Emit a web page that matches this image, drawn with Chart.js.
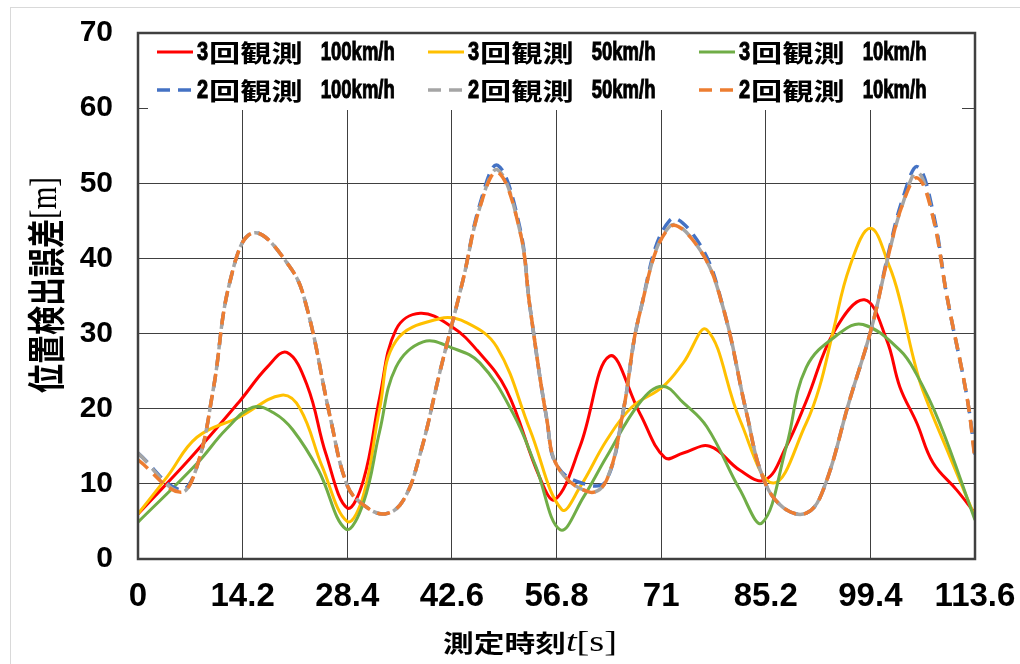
<!DOCTYPE html>
<html>
<head>
<meta charset="utf-8">
<script src="https://cdn.jsdelivr.net/npm/chart.js@4/dist/chart.umd.min.js"></script>
<style>
  html, body { margin: 0; padding: 0; background: #fff; }
  #chart { display: block; }
</style>
</head>
<body>
<canvas id="chart" width="1020" height="664"></canvas>
<script>
// 測定時刻 t[s] ごとの位置検出誤差 [m]
const xTicks = [0, 14.2, 28.4, 42.6, 56.8, 71, 85.2, 99.4, 113.6];

const seriesNames = [
  '3回観測 100km/h', '3回観測 50km/h', '3回観測 10km/h',
  '2回観測 100km/h', '2回観測 50km/h', '2回観測 10km/h'
];

const tRed = [0, 7, 13.8, 17.5, 20.2, 23, 25.5, 28.4, 30.6, 32.8, 35, 38.3, 42.6, 46, 50, 54.5, 56.6, 60, 64, 68.1, 71.5, 74, 77.6, 81.7, 85.1, 88, 90.7, 94.5, 98.6, 101.6, 103.4, 105.7, 107.9, 111.1, 113.6];
const vRed = [6, 13.3, 21, 25.5, 27.5, 23, 14, 6.8, 10.5, 21.5, 30.5, 32.7, 30.9, 27.8, 22.5, 10.9, 7.9, 15, 27, 19.4, 13.5, 14.1, 15, 11.8, 10.5, 15, 21, 30.3, 34.5, 29.2, 22.9, 18.1, 12.8, 9.2, 6.1];

const tYellow = [0, 4, 8, 13.8, 19.5, 22, 25, 28.4, 30.6, 32.8, 35, 41, 44.5, 48.7, 53.2, 57.5, 60, 63.6, 67, 71.2, 74, 77.2, 81.7, 86.2, 90.7, 92.5, 94.3, 96.6, 99.4, 102, 103.4, 105.2, 106.5, 110.2, 113.6];
const vYellow = [6, 11, 16.2, 18.9, 21.8, 20, 12.3, 5, 8.5, 20, 29, 32, 31.5, 28.2, 17.2, 6.6, 9.6, 15.8, 20.2, 22.9, 26.1, 30.5, 18.5, 10.1, 18.1, 22.9, 30.1, 38.9, 44, 38.9, 34.5, 26.9, 22.5, 13.6, 5.6];

const tGreen = [0, 8, 12, 15.6, 18.5, 21, 24.5, 28.2, 30.6, 32.8, 35, 38.7, 42.6, 46.4, 50.9, 54, 57.3, 60.5, 63.6, 68.1, 71.2, 74, 77.2, 81.7, 84.7, 88, 90.7, 95.3, 98.4, 103.4, 105.6, 108.8, 113.6];
const vGreen = [4.9, 12.7, 17.3, 20.2, 19.4, 17.2, 11.8, 4, 7.5, 17, 25.5, 28.9, 28.1, 26.1, 19.4, 12.3, 3.9, 8.3, 13.6, 20.8, 23, 20.8, 17.6, 9.2, 4.8, 15, 25.5, 30.1, 31.2, 27.8, 24.7, 18.1, 5.2];

const tDash = [0, 5.7, 8, 10.2, 12.5, 15.6, 20.6, 22.9, 26.1, 28.4, 30.6, 33.5, 36, 38.3, 41, 44.1, 46.4, 48.8, 51.8, 53.2, 55.5, 57, 61.3, 63.6, 65.8, 68.1, 72.2, 76.3, 79.4, 82.6, 84.8, 87.5, 90.7, 93, 96.6, 99.6, 101.8, 103.8, 105.8, 107.9, 109.8, 112.5, 113.6];
const vBlue = [14.1, 9.2, 12.3, 22.5, 37, 43.4, 38.9, 33.5, 18.8, 9.8, 7.2, 6, 7.8, 14, 25, 37.1, 47.2, 52.4, 44.2, 33.5, 18.5, 12.2, 9.8, 10.5, 19.4, 32.7, 45.1, 41.8, 33.5, 19.4, 10.9, 6.9, 6.1, 9.2, 21.2, 30.9, 40.5, 48, 52.2, 46.2, 34.9, 21.6, 13.9];
const vGray = [14.1, 8.9, 12.3, 22.5, 37, 43.4, 38.9, 33.5, 18.8, 9.8, 7.2, 6, 7.8, 14, 25, 37.1, 46.8, 51.8, 43.8, 33.5, 18.5, 12.2, 8.9, 10.5, 19.4, 32.7, 44.3, 41.1, 33.5, 19.4, 10.9, 6.9, 6.1, 9.2, 21.2, 30.9, 40.2, 47.3, 51.5, 45.5, 34.9, 21.6, 13.5];
const vOrange = [13.2, 8.9, 12.3, 22.5, 37, 43.4, 38.9, 33.5, 18.8, 9.8, 7.2, 6, 7.8, 14, 25, 37.1, 46.8, 51.5, 43.8, 33.5, 18.5, 12.2, 8.9, 10.5, 19.4, 32.7, 44.2, 41.1, 33.5, 19.4, 10.9, 6.9, 6.1, 9.2, 21.2, 30.9, 40.2, 47.3, 50.7, 45.5, 34.9, 21.6, 13.2];

const colors = ['#ff0000', '#ffc000', '#70ad47', '#4472c4', '#a5a5a5', '#ed7d31'];

const toPoints = (ts, vs) => ts.map((t, i) => ({ x: t, y: vs[i] }));

const series = [
  [tRed, vRed], [tYellow, vYellow], [tGreen, vGreen],
  [tDash, vBlue], [tDash, vGray], [tDash, vOrange]
];

const datasets = series.map(([ts, vs], i) => ({
  label: seriesNames[i],
  data: toPoints(ts, vs),
  borderColor: colors[i],
  backgroundColor: colors[i],
  borderWidth: i < 3 ? 3 : 3.5,
  borderDash: i < 3 ? [] : [13, 8],
  pointRadius: 0,
  tension: 0.4,
  fill: false,
  order: 6 - i // later series on top
}));

const CJK = '"Noto Sans CJK JP"';
const SANS = '"Liberation Sans"';
const SERIF = '"Liberation Serif"';

// draws text pieces one after another, each with its own font and horizontal stretch
const drawPieces = (ctx, pieces, x, y) => {
  pieces.forEach(p => {
    const sx = p.sx || 1;
    ctx.save();
    ctx.font = p.font;
    const w = ctx.measureText(p.text).width;
    ctx.translate(x, y);
    ctx.scale(sx, 1);
    ctx.fillText(p.text, 0, 0);
    if (p.heavy) {
      ctx.lineWidth = p.heavy;
      ctx.strokeStyle = ctx.fillStyle;
      ctx.strokeText(p.text, 0, 0);
    }
    ctx.restore();
    x += w * sx + (p.gap || 0);
  });
};

const decorations = {
  id: 'decorations',
  beforeDraw(chart) {
    const ctx = chart.ctx;
    ctx.save();
    ctx.fillStyle = '#fff';
    ctx.fillRect(0, 0, chart.width, chart.height);
    ctx.strokeStyle = '#d9d9d9';
    ctx.lineWidth = 1;
    ctx.strokeRect(10.5, 7.5, chart.width, chart.height);
    ctx.restore();
  },
  afterDraw(chart) {
    const ctx = chart.ctx;
    const area = chart.chartArea;
    ctx.save();

    // legend box inside the plot
    ctx.fillStyle = '#fff';
    ctx.fillRect(148, area.top + 1, 814, 76);
    ctx.textBaseline = 'middle';
    chart.data.datasets.forEach((ds, i) => {
      const col = i % 3, row = Math.floor(i / 3);
      const lx = 157 + col * 271;
      const ly = 52 + row * 38;
      ctx.beginPath();
      ctx.strokeStyle = ds.borderColor;
      ctx.lineWidth = ds.borderWidth;
      ctx.setLineDash(ds.borderDash);
      ctx.moveTo(lx, ly);
      ctx.lineTo(lx + 36, ly);
      ctx.stroke();
      ctx.setLineDash([]);
      const m = ds.label.match(/^(\d)(回観測)\s+(.*)$/);
      ctx.fillStyle = '#000';
      drawPieces(ctx, [
        { text: m[1], font: 'bold 25px ' + SANS, sx: 0.8, gap: 1, heavy: 1 },
        { text: m[2], font: 'bold 24px ' + CJK, sx: 1.3, gap: 18 },
        { text: m[3], font: 'bold 25px ' + SANS, sx: 0.74, heavy: 1 }
      ], lx + 40, ly + 1);
    });

    // plot frame
    ctx.strokeStyle = '#404040';
    ctx.lineWidth = 2.5;
    ctx.strokeRect(area.left, area.top, area.right - area.left, area.bottom - area.top);

    // axis titles
    ctx.fillStyle = '#000';
    drawPieces(ctx, [
      { text: '測定時刻', font: 'bold 24px ' + CJK, sx: 1.28 },
      { text: 't', font: 'italic 30px ' + SERIF, sx: 1.28 },
      { text: '[s]', font: '30px ' + SERIF, sx: 1.28 }
    ], 443, 643);

    ctx.save();
    ctx.translate(46, 393);
    ctx.scale(1.3, 1);
    ctx.rotate(-Math.PI / 2);
    drawPieces(ctx, [
      { text: '位置検出誤差', font: 'bold 29px ' + CJK },
      { text: '[m]', font: '29px ' + SERIF }
    ], 0, 0);
    ctx.restore();

    ctx.restore();
  }
};

// keep the plot area fixed: no extra room for half labels at the ends
const noEdgePadding = (scale) => {
  scale.paddingLeft = 0;
  scale.paddingRight = 0;
  scale.paddingTop = 0;
  scale.paddingBottom = 0;
};

const chartInstance = new Chart(document.getElementById('chart').getContext('2d'), {
  type: 'line',
  data: { datasets: datasets },
  options: {
    responsive: false,
    animation: false,
    devicePixelRatio: 1,
    layout: { padding: { top: 33, right: 45, bottom: 0, left: 0 } },
    plugins: {
      legend: { display: false },
      tooltip: { enabled: false }
    },
    scales: {
      x: {
        type: 'linear',
        min: 0,
        max: 113.6,
        afterBuildTicks: (scale) => { scale.ticks = xTicks.map(v => ({ value: v })); },
        afterFit: (scale) => { scale.height = 105; noEdgePadding(scale); },
        grid: { color: '#404040', lineWidth: 1, drawTicks: false },
        border: { display: false },
        ticks: {
          autoSkip: false,
          maxRotation: 0,
          padding: 18,
          color: '#000',
          font: { family: 'Liberation Sans', size: 33, weight: 'bold' },
          callback: (v) => String(v)
        }
      },
      y: {
        min: 0,
        max: 70,
        afterFit: (scale) => { scale.width = 138; noEdgePadding(scale); },
        grid: { color: '#404040', lineWidth: 1, drawTicks: false },
        border: { display: false },
        ticks: {
          stepSize: 10,
          padding: 25,
          color: '#000',
          font: { family: 'Liberation Sans', size: 30, weight: 'bold' }
        }
      }
    }
  },
  plugins: [decorations]
});
</script>
</body>
</html>
